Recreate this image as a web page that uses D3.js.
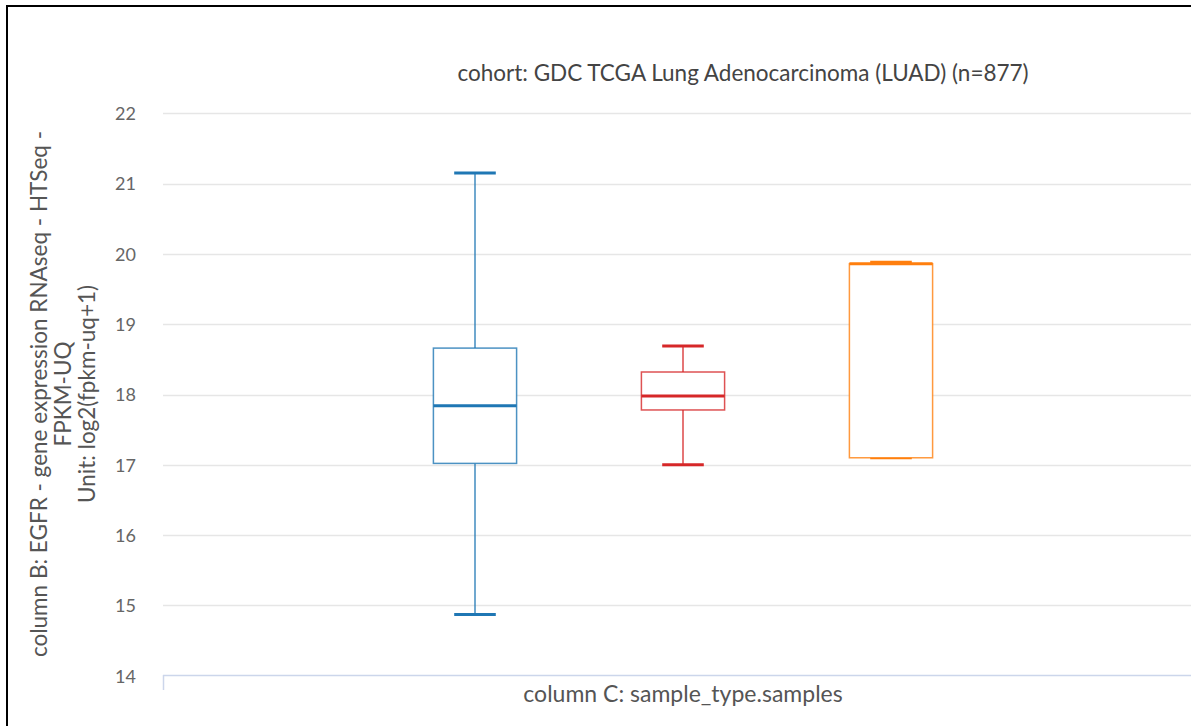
<!DOCTYPE html>
<html>
<head>
<meta charset="utf-8">
<script src="https://cdn.jsdelivr.net/npm/d3@7"></script>
<style>
  html, body { margin: 0; padding: 0; background: #fff; }
  svg { display: block; }
  text { font-family: Lato, "Open Sans", sans-serif; }
</style>
</head>
<body>
<svg id="chart" width="1191" height="726"></svg>
<script>
// Box-plot summaries per sample type (log2(fpkm-uq+1))
const categories = ["Primary Tumor", "Solid Tissue Normal", "Recurrent Tumor"];
const colors     = ["#1f77b4", "#d62728", "#ff7f0e"];
const lowValues    = [14.87, 17.00, 17.10];
const q1Values     = [17.02, 17.78, 17.10];
const medianValues = [17.84, 17.98, 19.86];
const q3Values     = [18.66, 18.32, 19.86];
const highValues   = [21.15, 18.69, 19.88];
const yTicks = [14, 15, 16, 17, 18, 19, 20, 21, 22];

const title = "cohort: GDC TCGA Lung Adenocarcinoma (LUAD) (n=877)";
const yTitleLines = [
  "column B: EGFR - gene expression RNAseq - HTSeq -",
  "FPKM-UQ",
  "Unit: log2(fpkm-uq+1)"
];
const xTitle = "column C: sample_type.samples";

const svg = d3.select("#chart");
const W = 1191, H = 726;

// plot area
const plot = { left: 163, right: 1203, top: 113.3, bottom: 675.7 };

const y = d3.scaleLinear().domain([14, 22]).range([plot.bottom, plot.top]);
// categories sit on integer slots; the axis spans slot -1.5 .. 3.5
const x = d3.scaleLinear().domain([-1.5, 3.5]).range([plot.left, plot.right]);
const slot = x(1) - x(0);
const boxW = slot * 0.4;
const capW = boxW * 0.5;

// frame
svg.append("line").attr("x1", 7).attr("x2", W).attr("y1", 6).attr("y2", 6)
  .attr("stroke", "#000").attr("stroke-width", 2);
svg.append("line").attr("x1", 7).attr("x2", 7).attr("y1", 5).attr("y2", H)
  .attr("stroke", "#000").attr("stroke-width", 2);

// grid lines
svg.append("g").selectAll("line").data(yTicks.filter(d => d !== 14)).join("line")
  .attr("x1", plot.left).attr("x2", W)
  .attr("y1", d => Math.round(y(d)) + 0.5).attr("y2", d => Math.round(y(d)) + 0.5)
  .attr("stroke", "#e6e6e6").attr("stroke-width", 1.5);

// y axis labels
const yAxis = d3.axisLeft(y).tickValues(yTicks).tickSize(0).tickPadding(0);
const gy = svg.append("g").attr("transform", `translate(136,0)`).call(yAxis);
gy.select(".domain").remove();
gy.selectAll("text")
  .attr("fill", "#666").attr("font-size", 18).attr("dy", "0.35em")
  .style("font-family", "Lato, sans-serif");

// x axis line and left tick
svg.append("line").attr("x1", plot.left).attr("x2", W)
  .attr("y1", 675.5).attr("y2", 675.5).attr("stroke", "#ccd6eb").attr("stroke-width", 1.5);
svg.append("line").attr("x1", plot.left + 0.5).attr("x2", plot.left + 0.5)
  .attr("y1", 675).attr("y2", 690).attr("stroke", "#ccd6eb").attr("stroke-width", 1.5);

// boxes
const data = categories.map((c, i) => ({
  cat: c, i, color: colors[i],
  low: lowValues[i], q1: q1Values[i], med: medianValues[i], q3: q3Values[i], high: highValues[i]
}));

const g = svg.append("g").selectAll("g").data(data).join("g");

// whisker stems
g.append("line")
  .attr("x1", d => x(d.i)).attr("x2", d => x(d.i))
  .attr("y1", d => y(d.high)).attr("y2", d => y(d.q3))
  .attr("stroke", d => d.color).attr("stroke-width", 1.5).attr("stroke-opacity", 0.85);
g.append("line")
  .attr("x1", d => x(d.i)).attr("x2", d => x(d.i))
  .attr("y1", d => y(d.q1)).attr("y2", d => y(d.low))
  .attr("stroke", d => d.color).attr("stroke-width", 1.5).attr("stroke-opacity", 0.85);

// whisker caps
g.append("line")
  .attr("x1", d => x(d.i) - capW / 2).attr("x2", d => x(d.i) + capW / 2)
  .attr("y1", d => y(d.high)).attr("y2", d => y(d.high))
  .attr("stroke", d => d.color).attr("stroke-width", 3);
g.append("line")
  .attr("x1", d => x(d.i) - capW / 2).attr("x2", d => x(d.i) + capW / 2)
  .attr("y1", d => y(d.low)).attr("y2", d => y(d.low))
  .attr("stroke", d => d.color).attr("stroke-width", 3);

// box (drawn over the caps so a cap that meets the box edge tucks under it)
g.append("rect")
  .attr("x", d => x(d.i) - boxW / 2).attr("width", boxW)
  .attr("y", d => y(d.q3)).attr("height", d => y(d.q1) - y(d.q3))
  .attr("fill", "#fff").attr("stroke", d => d.color)
  .attr("stroke-width", 1.5).attr("stroke-opacity", 0.8);

// median
g.append("line")
  .attr("x1", d => x(d.i) - boxW / 2).attr("x2", d => x(d.i) + boxW / 2)
  .attr("y1", d => y(d.med)).attr("y2", d => y(d.med))
  .attr("stroke", d => d.color).attr("stroke-width", 3);

// titles
svg.append("text").attr("x", 743).attr("y", 81).attr("text-anchor", "middle")
  .attr("font-size", 22.5).attr("fill", "#444").text(title);

svg.append("text").attr("x", (plot.left + plot.right) / 2).attr("y", 702)
  .attr("text-anchor", "middle").attr("font-size", 23).attr("fill", "#555").text(xTitle);

const yt = svg.append("text")
  .attr("transform", `translate(47,394) rotate(-90)`)
  .attr("text-anchor", "middle").attr("font-size", 22.5).attr("fill", "#555");
yTitleLines.forEach((line, k) => {
  yt.append("tspan").attr("x", 0).attr("y", k * 24).text(line);
});
</script>
</body>
</html>
